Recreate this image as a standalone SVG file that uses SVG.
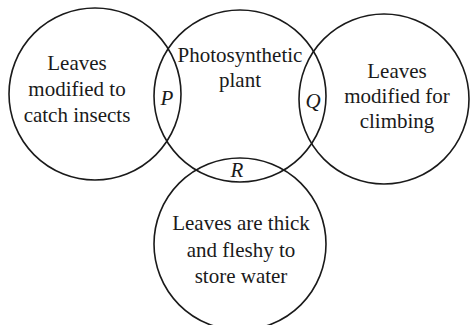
<svg xmlns="http://www.w3.org/2000/svg" width="470" height="325" viewBox="0 0 470 325">
<style>
.c{fill:none;stroke:#1a1a1a;stroke-width:1.6}
.t{font-family:"Liberation Serif","Times New Roman",serif;font-size:21px;fill:#1a1a1a;text-anchor:middle}
.l{font-family:"Liberation Serif","Times New Roman",serif;font-size:21px;font-style:italic;fill:#1a1a1a;text-anchor:middle}
</style>
<rect width="470" height="325" fill="#ffffff"/>
<g id="left">
<circle class="c" cx="95" cy="94" r="86"/>
<text class="t" x="77" y="70">Leaves</text>
<text class="t" x="77" y="96">modified to</text>
<text class="t" x="77" y="122">catch insects</text>
</g>
<g id="middle">
<circle class="c" cx="240" cy="96" r="86"/>
<text class="t" x="240" y="62">Photosynthetic</text>
<text class="t" x="240" y="87">plant</text>
</g>
<g id="right">
<circle class="c" cx="384" cy="99" r="85"/>
<text class="t" x="397" y="78">Leaves</text>
<text class="t" x="397" y="103">modified for</text>
<text class="t" x="397" y="128">climbing</text>
</g>
<g id="bottom">
<circle class="c" cx="240" cy="244" r="86"/>
<text class="t" x="241" y="230">Leaves are thick</text>
<text class="t" x="241" y="257">and fleshy to</text>
<text class="t" x="241" y="283">store water</text>
</g>
<g id="labels">
<text class="l" x="167" y="105">P</text>
<text class="l" x="313" y="108">Q</text>
<text class="l" x="237" y="177">R</text>
</g>
</svg>
